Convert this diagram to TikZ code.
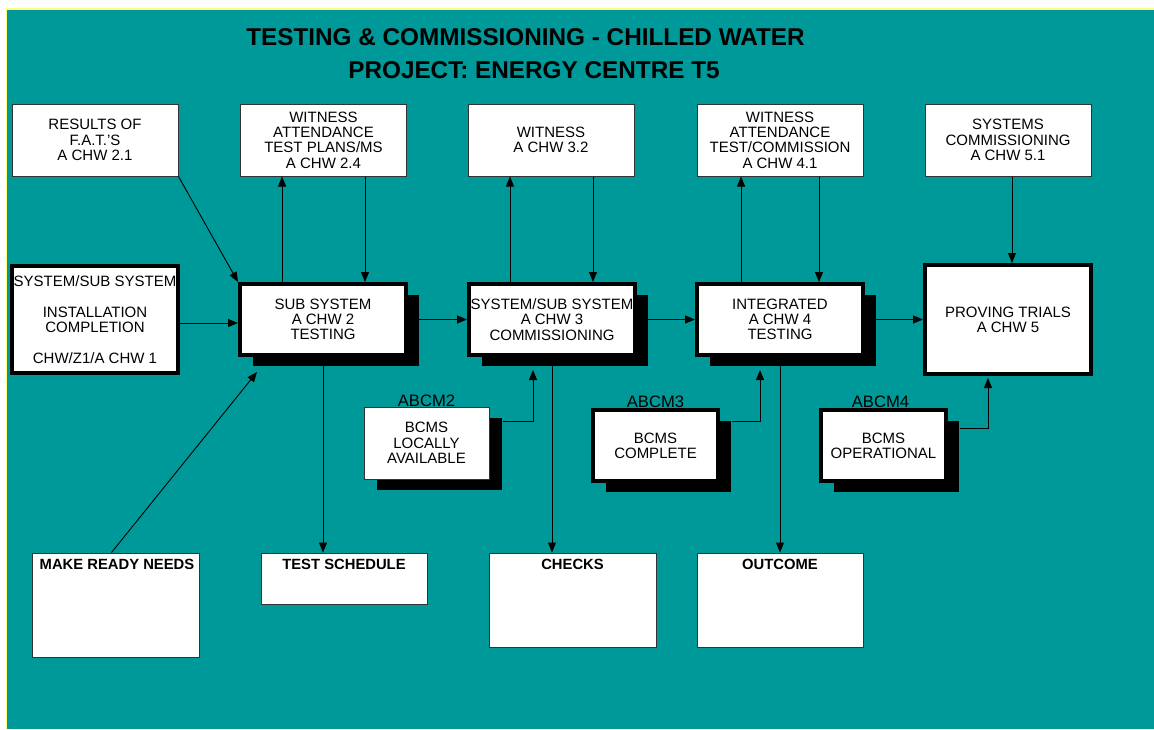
\documentclass[tikz,border=0pt]{standalone}
\usepackage{fontspec}
\setmainfont{Liberation Sans}
\usetikzlibrary{arrows.meta,shadows,calc}
\definecolor{teal0}{RGB}{0,153,153}
\definecolor{yel}{RGB}{255,255,128}
\newcommand{\diagfont}{\fontsize{15}{15.3}\selectfont}
\newcommand{\diagbold}{\fontsize{14.8}{15.3}\selectfont\bfseries}
\newcommand{\diagtitle}{\fontsize{24.3}{28}\selectfont\bfseries}
\newcommand{\diaglbl}{\fontsize{16.6}{18}\selectfont}
\begin{document}
\begin{tikzpicture}[x=1pt,y=-1pt,
  topbox/.style={draw=black!80, line width=1pt, fill=white, minimum width=166pt,
    minimum height=72pt, inner sep=0pt, align=center, font=\diagfont},
  thickbox/.style={draw=black, line width=4pt, fill=white, minimum width=166pt,
    minimum height=71pt, inner sep=0pt, align=center, font=\diagfont},
  shadowed/.style={drop shadow={shadow xshift=13pt, shadow yshift=-11pt, fill=black, opacity=1}},
  mainbox/.style={thickbox, shadowed},
  btmbox/.style={draw=black!80, line width=1pt, fill=white, inner sep=0pt},
  btmlbl/.style={anchor=base, inner sep=0pt, font=\diagbold},
  lbl/.style={anchor=base, inner sep=0pt, font=\diaglbl},
  titlestyle/.style={anchor=base, inner sep=0pt, font=\diagtitle},
  arr/.style={-{Triangle[length=10pt,width=8pt]}, line width=0.9pt, black}
]
\useasboundingbox (0,0) rectangle (1154,729);
\fill[white] (0,0) rectangle (1154,729);
\fill[yel] (6,8) rectangle (1154,729);
\fill[teal0] (7.3,10) rectangle (1154,729);

% titles
\node[titlestyle] (t1) at (525.5,45) {TESTING \& COMMISSIONING - CHILLED WATER};
\node[titlestyle] (t2) at (534,78.5) {PROJECT: ENERGY CENTRE T5};

% top row
\node[topbox] (res) at (95,140) {RESULTS OF\\F.A.T.'S\\A CHW 2.1};
\node[topbox] (w24) at (323.5,140) {WITNESS\\ATTENDANCE\\TEST PLANS/MS\\A CHW 2.4};
\node[topbox] (w32) at (551,140) {WITNESS\\A CHW 3.2};
\node[topbox] (w41) at (780,140) {WITNESS\\ATTENDANCE\\TEST/COMMISSION\\A CHW 4.1};
\node[topbox] (sc51) at (1008,140) {SYSTEMS\\COMMISSIONING\\A CHW 5.1};

% main row
\node[thickbox, minimum height=107pt] (inst) at (95,319.5)
  {SYSTEM/SUB SYSTEM\\[15.3pt]INSTALLATION\\COMPLETION\\[15.3pt]CHW/Z1/A CHW 1};
\node[mainbox] (b2) at (323,319.5) {SUB SYSTEM\\A CHW 2\\TESTING};
\node[mainbox] (b3) at (552,319.5) {SYSTEM/SUB SYSTEM\\A CHW 3\\COMMISSIONING};
\node[mainbox] (b4) at (780,319.5) {INTEGRATED\\A CHW 4\\TESTING};
\node[thickbox, minimum height=109pt] (pt) at (1008,319.5) {PROVING TRIALS\\A CHW 5};

% ABCM boxes
\node[topbox, shadowed, minimum width=125pt, minimum height=72pt] (a2) at (426.5,443) {BCMS\\LOCALLY\\AVAILABLE};
\node[thickbox, shadowed, minimum width=125pt, minimum height=71pt] (a3) at (655.5,445.5) {BCMS\\COMPLETE};
\node[thickbox, shadowed, minimum width=125pt, minimum height=71pt] (a4) at (883.5,445.5) {BCMS\\OPERATIONAL};
\node[lbl] (a2l) at ([yshift=0.5pt]a2.north) {ABCM2};
\node[lbl] (a3l) at ([yshift=0.5pt]a3.north) {ABCM3};
\node[lbl] (a4l) at ([xshift=-3pt,yshift=0.5pt]a4.north) {ABCM4};

% bottom boxes
\node[btmbox, minimum width=167pt, minimum height=104pt] (mrn) at (115.5,605) {};
\node[btmlbl] (mrnl) at ([xshift=1.5pt,yshift=-17pt]mrn.north) {MAKE READY NEEDS};
\node[btmbox, minimum width=166pt, minimum height=51pt] (ts) at (344,578.5) {};
\node[btmlbl] (tsl) at ([yshift=-17pt]ts.north) {TEST SCHEDULE};
\node[btmbox, minimum width=167pt, minimum height=94pt] (ch) at (572.5,600) {};
\node[btmlbl] (chl) at ([yshift=-17pt]ch.north) {CHECKS};
\node[btmbox, minimum width=166pt, minimum height=94pt] (oc) at (780,600) {};
\node[btmlbl] (ocl) at ([yshift=-17pt]oc.north) {OUTCOME};

% connectors
\draw[arr] (res.south east) -- (b2.north west);
\draw[arr] ([xshift=-41pt]b2.north) -- ([xshift=-41pt]b2.north |- w24.south);
\draw[arr] ([xshift=42pt]b2.north |- w24.south) -- ([xshift=42pt]b2.north);
\draw[arr] ([xshift=-42pt]b3.north) -- ([xshift=-42pt]b3.north |- w32.south);
\draw[arr] ([xshift=41pt]b3.north |- w32.south) -- ([xshift=41pt]b3.north);
\draw[arr] ([xshift=-39pt]b4.north) -- ([xshift=-39pt]b4.north |- w41.south);
\draw[arr] ([xshift=39pt]b4.north |- w41.south) -- ([xshift=39pt]b4.north);
\draw[arr] ([xshift=4pt]sc51.south) -- ([xshift=4pt]sc51.south |- pt.north);

\draw[arr] ([yshift=-3.5pt]inst.east) -- ([yshift=-3.5pt]inst.east -| b2.west);
\draw[arr] (b2.east) -- (b3.west);
\draw[arr] (b3.east) -- (b4.west);
\draw[arr] (b4.east) -- (pt.west);

\draw[arr] ([xshift=-4pt]mrn.north) -- ([shift={(19pt,-15pt)}]b2.south west);
\draw[arr] (b2.south) -- (b2.south |- ts.north);
\draw[arr] (b3.south) -- (b3.south |- ch.north);
\draw[arr] (b4.south) -- (b4.south |- oc.north);

\draw[arr] ([shift={(13pt,22pt)}]a2.east) -| ([shift={(-19pt,-13pt)}]b3.south);
\draw[arr] ([shift={(12pt,24.5pt)}]a3.east) -| ([shift={(-20pt,-13pt)}]b4.south);
\draw[arr] ([shift={(12pt,17.5pt)}]a4.east) -| ([shift={(-20pt,-2pt)}]pt.south);
\end{tikzpicture}
\end{document}
